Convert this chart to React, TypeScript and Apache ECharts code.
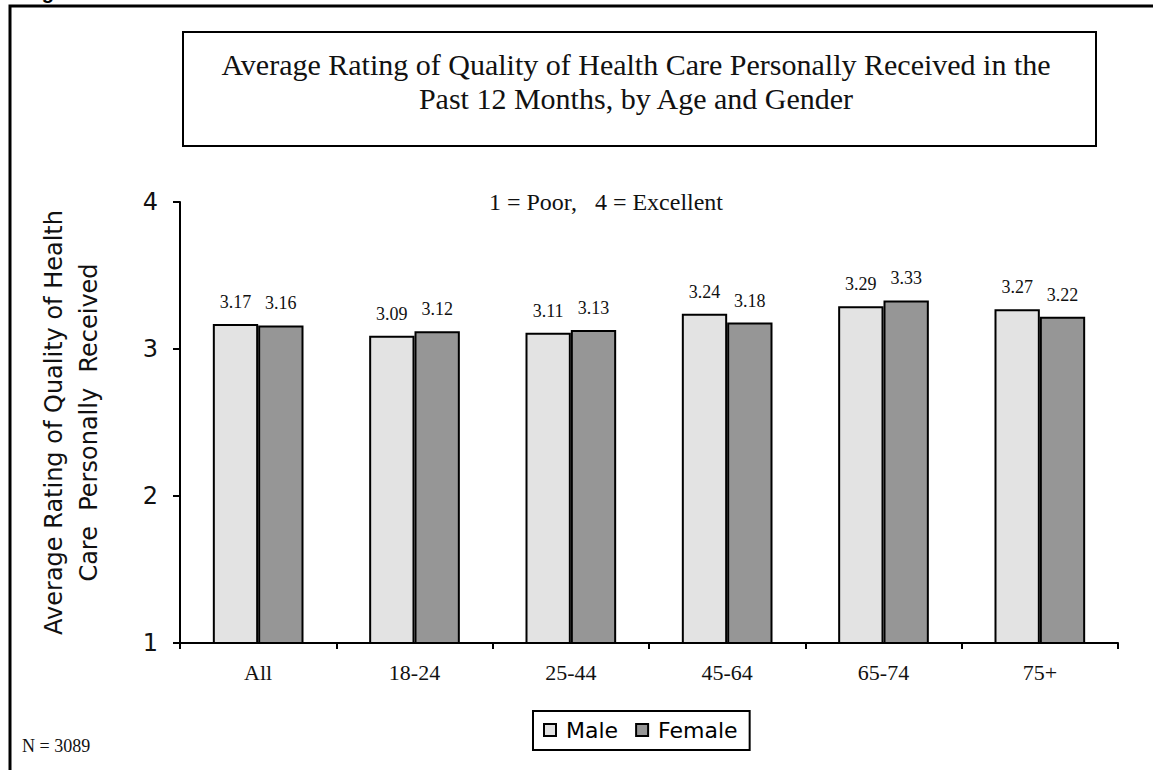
import React, { useEffect, useRef } from "react";
import * as echarts from "echarts";

const categories = ["All", "18-24", "25-44", "45-64", "65-74", "75+"];
const maleValues = [3.17, 3.09, 3.11, 3.24, 3.29, 3.27];
const femaleValues = [3.16, 3.12, 3.13, 3.18, 3.33, 3.22];
const yTicks = [1, 2, 3, 4];
const titleLines = [
  "Average Rating of Quality of Health Care Personally Received in the",
  "Past 12 Months, by Age and Gender",
];
const scaleNote = "1 = Poor,   4 = Excellent";
const sampleNote = "N = 3089";
const yAxisName = "Average Rating of Quality of Health\nCare  Personally  Received";

const SERIF = "'Liberation Serif', 'Times New Roman', serif";
const SANS = "'DejaVu Sans', Verdana, sans-serif";

export default function App() {
  const ref = useRef<HTMLDivElement>(null);
  useEffect(() => {
    if (!ref.current) return;
    const chart = echarts.init(ref.current, null, { renderer: "svg" });
    const labelCfg = {
      show: true,
      position: "top" as const,
      distance: 13,
      color: "#111",
      fontFamily: SERIF,
      fontSize: 18,
      formatter: (p: any) => Number(p.value).toFixed(2),
    };
    chart.setOption({
      animation: false,
      backgroundColor: "#ffffff",
      grid: { left: 180, right: 35, top: 202, bottom: 127, containLabel: false },
      legend: {
        left: 533,
        top: 711,
        orient: "horizontal",
        icon: "rect",
        itemWidth: 12,
        itemHeight: 12,
        itemGap: 17,
        borderColor: "#000",
        borderWidth: 2,
        padding: [8, 12, 9, 10],
        textStyle: { fontFamily: SANS, fontSize: 22, color: "#000", padding: [0, 0, 0, 5] },
        data: ["Male", "Female"],
      },
      xAxis: {
        type: "category",
        data: categories,
        boundaryGap: true,
        axisLine: { lineStyle: { color: "#000", width: 2 } },
        axisTick: { show: true, length: 6, lineStyle: { color: "#000", width: 2 } },
        axisLabel: { fontFamily: SERIF, fontSize: 22, color: "#111", margin: 18 },
      },
      yAxis: {
        type: "value",
        min: yTicks[0],
        max: yTicks[yTicks.length - 1],
        interval: 1,
        name: yAxisName,
        nameLocation: "middle",
        nameGap: 74,
        nameRotate: 90,
        nameTextStyle: { fontFamily: SANS, fontSize: 24, color: "#111", lineHeight: 35 },
        axisLine: { show: true, lineStyle: { color: "#000", width: 2 } },
        axisTick: { show: true, length: 7, lineStyle: { color: "#000", width: 2 } },
        axisLabel: { fontFamily: SANS, fontSize: 24, color: "#111", margin: 22 },
        splitLine: { show: false },
      },
      series: [
        {
          name: "Male",
          type: "bar",
          data: maleValues,
          barGap: "0%",
          barCategoryGap: "42%",
          itemStyle: { color: "#e3e3e3", borderColor: "#000", borderWidth: 2 },
          label: labelCfg,
        },
        {
          name: "Female",
          type: "bar",
          data: femaleValues,
          itemStyle: { color: "#969696", borderColor: "#000", borderWidth: 2 },
          label: labelCfg,
        },
      ],
      graphic: [
        {
          type: "rect",
          shape: { x: 10, y: 6, width: 1300, height: 900 },
          style: { fill: "none", stroke: "#000", lineWidth: 3 },
          silent: true,
        },
        {
          type: "text",
          left: 24,
          top: -18,
          style: { text: "Figure", font: "bold 20px 'Liberation Sans', Arial, sans-serif", fill: "#000" },
          silent: true,
        },
        {
          type: "rect",
          shape: { x: 183, y: 32, width: 913, height: 114 },
          style: { fill: "#fff", stroke: "#000", lineWidth: 2 },
          silent: true,
        },
        {
          type: "text",
          x: 636,
          y: 81,
          style: {
            text: titleLines.join("\n"),
            font: `30px ${SERIF}`,
            lineHeight: 34,
            fill: "#111",
            align: "center",
            verticalAlign: "middle",
          },
        },
        {
          type: "text",
          x: 606,
          y: 202,
          style: { text: scaleNote, font: `24px ${SERIF}`, fill: "#111", align: "center", verticalAlign: "middle" },
        },
        {
          type: "text",
          x: 22,
          y: 746,
          style: { text: sampleNote, font: `18px ${SERIF}`, fill: "#111", align: "left", verticalAlign: "middle" },
        },
      ],
    });
    return () => chart.dispose();
  }, []);
  return (
    <div
      ref={ref}
      style={{ position: "fixed", left: 0, top: 0, width: 1153, height: 770, background: "#fff" }}
    />
  );
}
